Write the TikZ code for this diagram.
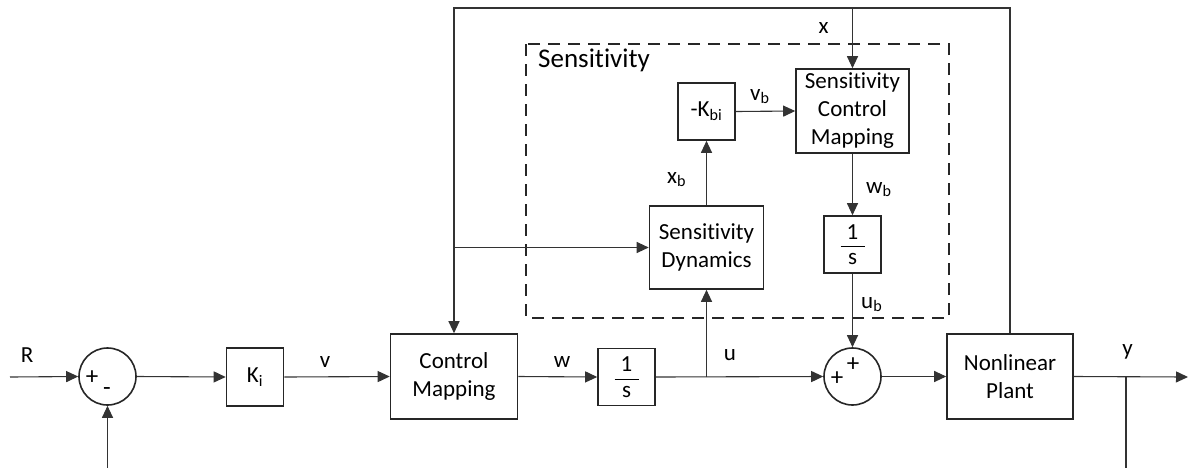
\documentclass[tikz,border=0pt]{standalone}
\usepackage{fontspec}
\setmainfont{Carlito}[Ligatures={NoCommon}]
\usetikzlibrary{arrows.meta}
\newcommand\onesfrac{\vbox{\hbox to 24pt{\hss 1\hss}\kern7pt\hrule height 1.4pt\kern6pt\hbox to 24pt{\hss s\hss}}}
\begin{document}
\begin{tikzpicture}[x=1pt,y=-1pt,
  blk/.style={draw=black!85, line width=1.6pt, align=center, font=\fontsize{23}{28}\selectfont, inner sep=0pt},
  intg/.style={draw=black!85, line width=1.6pt, font=\fontsize{23}{28}\selectfont, inner sep=0pt, minimum width=57pt, minimum height=57pt},
  sumc/.style={draw=black!85, line width=1.6pt, circle, minimum size=57pt, inner sep=0pt},
  sgn/.style={font=\fontsize{25}{27}\selectfont, inner sep=0pt},
  wire/.style={draw=black!80, line width=1.1pt},
  arr/.style={wire, -{Triangle[length=12pt,width=11pt]}},
  lbl/.style={font=\fontsize{23}{28}\selectfont, inner sep=0pt, anchor=base},
  lblw/.style={lbl, anchor=base west},
  dashbox/.style={draw=black!85, line width=1.6pt, dash pattern=on 12pt off 8pt},
]
\useasboundingbox (0,0) rectangle (1189,467);

% dashed sensitivity region
\draw[dashbox] (526,44) rectangle (949,318);
\node[lblw, font=\fontsize{27}{30}\selectfont] (senslbl) at (538,67) {Sensitivity};

% blocks
\node[sumc] (s1) at (107.5,376.5) {};
\node[sgn] (s1p) at (92,378) {+};
\node[sgn] (s1m) at (107,392) {-};
\node[blk, minimum width=57pt, minimum height=58pt] (Ki) at (255,377) {K\textsubscript{i}};
\node[blk, minimum width=127pt, minimum height=85pt] (CM) at (454,376.5) {Control\\Mapping};
\node[intg] (I1) at (626.5,377) {\onesfrac};
\node[sumc] (s2) at (852.5,376.5) {};
\node[sgn] (s2p) at (837,379) {+};
\node[sgn] (s2q) at (853,365) {+};
\node[blk, minimum width=126pt, minimum height=85pt] (NP) at (1010,376.5) {Nonlinear\\Plant};
\node[blk, minimum width=114pt, minimum height=83pt] (SD) at (706.5,247.5) {Sensitivity\\Dynamics};
\node[blk, minimum width=57pt, minimum height=57pt] (Kbi) at (706.5,111.5) {-K\textsubscript{bi}};
\node[blk, minimum width=113pt, minimum height=84pt] (SCM) at (852.5,111) {Sensitivity\\Control\\Mapping};
\node[intg] (I2) at (852.5,244.5) {\onesfrac};

% auxiliary coordinates
\coordinate (in) at (10,377);
\coordinate (out) at (1188,377);
\coordinate (yj) at (1126,377);
\coordinate (fbR) at (1126,475);
\coordinate (fbL) at (107.5,475);
\coordinate (uj) at (706.5,377);
\coordinate (tR) at (1010,8);
\coordinate (tL) at (454,8);
\coordinate (tx) at (852.5,8);
\coordinate (bj) at (454,247.5);

% connectors
\draw[arr] (in) -- (s1.west);
\draw[arr] (s1.east) -- (Ki.west);
\draw[arr] (Ki.east) -- (CM.west);
\draw[arr] (CM.east) -- (I1.west);
\draw[arr] (I1.east) -- (s2.west);
\draw[arr] (uj) -- (SD.south);
\draw[arr] (s2.east) -- (NP.west);
\draw[arr] (NP.east) -- (out);
\draw[arr] (yj) -- (fbR) -- (fbL) -- (s1.south);
\draw[arr] (NP.north) -- (tR) -- (tL) -- (CM.north);
\draw[arr] (tx) -- (SCM.north);
\draw[arr] (bj) -- (SD.west);
\draw[arr] (SD.north) -- (Kbi.south);
\draw[arr] (Kbi.east) -- (SCM.west);
\draw[arr] (SCM.south) -- (I2.north);
\draw[arr] (I2.south) -- (s2.north);

% signal labels
\node[lbl] (lR) at (27,362) {R};
\node[lbl] (lv) at (325,367) {v};
\node[lbl] (lw) at (562,367) {w};
\node[lbl] (lu) at (730,360) {u};
\node[lbl] (ly) at (1127.5,355) {y};
\node[lbl] (lx) at (823.5,33) {x};
\node[lblw] (lxb) at (667,183) {x\textsubscript{b}};
\node[lblw] (lvb) at (750,100) {v\textsubscript{b}};
\node[lblw] (lwb) at (866,193) {w\textsubscript{b}};
\node[lblw] (lub) at (861,308) {u\textsubscript{b}};
\end{tikzpicture}
\end{document}
